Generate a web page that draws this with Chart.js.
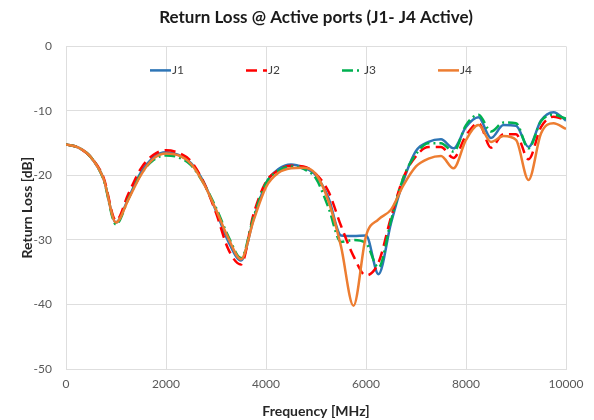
<!DOCTYPE html>
<html>
<head>
<meta charset="utf-8">
<script src="https://cdn.jsdelivr.net/npm/chart.js@4.4.1/dist/chart.umd.min.js"></script>
<style>
    html, body { margin: 0; padding: 0; background: #fff; }
    #wrap { width: 594px; height: 420px; position: relative; }
</style>
</head>
<body>
<div id="wrap"><canvas id="rlChart"></canvas></div>
<script>
// Frequency points [MHz]
const freqMHz = [0, 250, 500, 750, 1000, 1250, 1500, 1750, 2000, 2250, 2500, 2750, 3000, 3250, 3500, 3750,
    4000, 4250, 4500, 4750, 5000, 5250, 5500, 5750, 6000, 6250, 6500, 6750, 7000, 7250, 7500, 7750,
    8000, 8250, 8500, 8750, 9000, 9250, 9500, 9750, 10000];

// Return loss [dB] per port
const j1 = [-15.2, -15.7, -17.2, -20.5, -27.3, -23.5, -19.5, -17.2, -16.4, -16.8, -18.1, -21.0, -25.5, -30.3, -33.2, -26.8,
    -21.2, -19.0, -18.3, -18.8, -20.0, -23.5, -29.3, -29.4, -29.3, -35.3, -27.4, -20.8, -16.2, -14.8, -14.4, -15.8,
    -12.5, -11.0, -14.2, -12.2, -12.3, -15.6, -11.5, -10.2, -11.5];
const j2 = [-15.2, -15.7, -17.2, -20.3, -27.0, -22.8, -18.9, -16.8, -16.1, -16.5, -17.8, -21.0, -25.8, -31.5, -33.8, -26.0,
    -21.0, -19.2, -18.5, -18.6, -19.8, -22.5, -27.8, -32.5, -35.5, -33.5, -26.5, -20.3, -17.0, -15.6, -15.6, -17.3,
    -13.8, -11.9, -15.7, -13.6, -13.6, -17.5, -12.5, -10.9, -11.4];
const j3 = [-15.2, -15.7, -17.2, -20.6, -27.6, -23.6, -19.8, -17.6, -16.9, -17.2, -18.4, -21.2, -25.0, -29.5, -32.8, -26.5,
    -21.2, -19.3, -18.6, -19.0, -20.5, -25.0, -30.3, -30.0, -30.5, -34.3, -27.0, -20.3, -16.7, -15.0, -15.0, -16.3,
    -12.2, -10.6, -13.2, -11.8, -11.9, -15.8, -11.6, -10.6, -11.2];
const j4 = [-15.2, -15.7, -17.2, -20.5, -27.3, -23.7, -19.9, -17.4, -16.6, -16.9, -18.2, -21.2, -25.3, -29.8, -33.0, -27.0,
    -21.8, -19.6, -18.9, -18.8, -19.8, -24.0, -31.0, -40.2, -29.4, -26.8, -25.3, -21.5, -18.6, -17.4, -17.0, -18.9,
    -14.5, -12.2, -14.8, -13.9, -14.5, -20.7, -13.5, -11.9, -12.8];

const seriesNames = ['J1', 'J2', 'J3', 'J4'];

const FONT = "Lato, 'Open Sans', sans-serif";

function toPoints(ys) {
    return freqMHz.map((f, i) => ({ x: f, y: ys[i] }));
}

// legend drawn inside the plot area, like the original
const insideLegend = {
    id: 'insideLegend',
    afterDraw(chart) {
        const ctx = chart.ctx;
        const area = chart.chartArea;
        const y = area.top + 24;
        ctx.save();
        chart.data.datasets.forEach((ds, i) => {
            const x0 = area.left + 84 + i * 96;
            ctx.beginPath();
            ctx.strokeStyle = ds.borderColor;
            ctx.lineWidth = ds.borderWidth;
            ctx.setLineDash(ds.borderDash || []);
            ctx.moveTo(x0, y);
            ctx.lineTo(x0 + 21, y);
            ctx.stroke();
            ctx.setLineDash([]);
            ctx.fillStyle = '#404040';
            ctx.font = '12px ' + FONT;
            ctx.textBaseline = 'middle';
            ctx.fillText(ds.label, x0 + 22, y);
        });
        ctx.restore();
    }
};

const ctx = document.getElementById('rlChart').getContext('2d');

new Chart(ctx, {
    type: 'line',
    data: {
        datasets: [
            { label: seriesNames[0], data: toPoints(j1), borderColor: '#2e75b6', borderWidth: 2.5, order: 4 },
            { label: seriesNames[1], data: toPoints(j2), borderColor: '#ff0000', borderWidth: 2.5, borderDash: [11, 6], order: 3 },
            { label: seriesNames[2], data: toPoints(j3), borderColor: '#00b050', borderWidth: 2.5, borderDash: [11, 4, 2, 4], order: 2 },
            { label: seriesNames[3], data: toPoints(j4), borderColor: '#ed7d31', borderWidth: 2.5, order: 1 }
        ]
    },
    options: {
        responsive: true,
        maintainAspectRatio: false,
        animation: false,
        elements: {
            point: { radius: 0 },
            line: { cubicInterpolationMode: 'monotone', fill: false }
        },
        layout: { padding: { left: 0, right: 28, top: 0, bottom: 0 } },
        plugins: {
            legend: { display: false },
            tooltip: { enabled: false },
            title: {
                display: true,
                fullSize: false,
                text: 'Return Loss @ Active ports (J1- J4 Active)',
                color: '#1a1a1a',
                font: { family: FONT, size: 17, weight: 'bold' },
                padding: { top: 7, bottom: 19 }
            }
        },
        scales: {
            x: {
                type: 'linear',
                min: 0,
                max: 10000,
                ticks: {
                    stepSize: 2000,
                    color: '#595959',
                    font: { family: FONT, size: 12 },
                    padding: 8,
                    callback: (value) => String(value)
                },
                grid: { color: '#dedede', drawTicks: false },
                border: { color: '#dedede' },
                title: {
                    display: true,
                    text: 'Frequency [MHz]',
                    color: '#262626',
                    font: { family: FONT, size: 14, weight: 'bold' },
                    padding: { top: 2, bottom: 0 }
                },
                afterFit(scale) { scale.height = 51; }
            },
            y: {
                min: -50,
                max: 0,
                ticks: {
                    stepSize: 10,
                    color: '#595959',
                    font: { family: FONT, size: 12 },
                    padding: 14
                },
                grid: { color: '#dedede', drawTicks: false },
                border: { color: '#dedede' },
                title: {
                    display: true,
                    text: 'Return Loss [dB]',
                    color: '#262626',
                    font: { family: FONT, size: 14, weight: 'bold' },
                    padding: { top: 19, bottom: 0 }
                },
                afterFit(scale) { scale.width = 66; }
            }
        }
    },
    plugins: [insideLegend]
});
</script>
</body>
</html>
